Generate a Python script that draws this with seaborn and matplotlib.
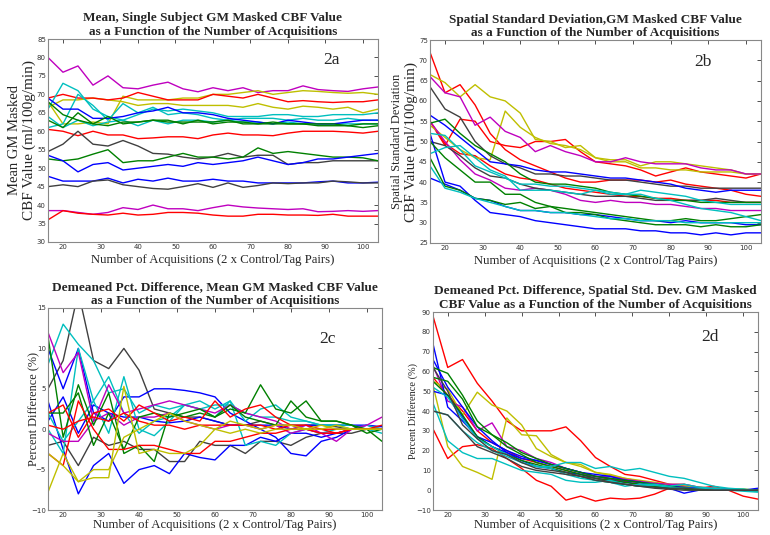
import matplotlib
matplotlib.use("Agg")
import matplotlib.pyplot as plt
import seaborn as sns

# number of acquisitions (x axis, every 4th point)
acq = list(range(16, 105, 4))

# MATLAB style line colours
BLUE = (0.0, 0.0, 1.0)
GREEN = (0.0, 0.5, 0.0)
RED = (1.0, 0.0, 0.0)
CYAN = (0.0, 0.75, 0.75)
MAGENTA = (0.75, 0.0, 0.75)
YELLOW = (0.75, 0.75, 0.0)
BLACK = (0.25, 0.25, 0.25)

# =============================================================================
# 2a : mean GM masked CBF
# =============================================================================
a_mag_hi = [80, 76, 77.7, 72.5, 75, 71.8, 71.5, 72.5, 73.3, 71.5, 70.7, 71.8, 71, 71.8, 70.5, 71, 71, 72.3, 71.3, 71, 70.8, 71.5, 72]
a_yel_1 = [68, 62, 62, 62.5, 62, 69.5, 68.5, 68.5, 68.5, 69, 69, 70, 70, 70.5, 71, 70, 70.5, 71, 70.8, 70.5, 70.3, 70.5, 70]
a_yel_2 = [66.5, 68.5, 68.5, 69, 68.5, 68, 67, 67.5, 67.5, 67, 67, 67, 67, 66.5, 67.5, 66.5, 66, 66.8, 66.5, 66, 66.5, 65, 66]
a_red_hi = [69, 70, 69, 69, 68.5, 69, 70.5, 69.5, 68.5, 68.5, 68.5, 70, 69.5, 69, 70, 69, 68, 68.3, 68, 67.8, 68, 68, 68.5]
a_cya_1 = [66, 73, 71, 66, 64, 63, 64.5, 66, 65.5, 66, 65.5, 65, 64, 64, 64, 64.5, 64.5, 64, 64, 64.5, 64.5, 64.5, 65]
a_cya_2 = [61, 62, 70, 67, 63, 67.5, 65, 66.5, 64.5, 65, 64.5, 63.5, 63, 63.5, 63.5, 63.5, 63, 63.5, 63, 63, 63.5, 63, 63]
a_cya_3 = [64, 61, 63, 61.5, 62.5, 63, 61.5, 63, 62, 63, 63, 62.5, 63, 62.5, 62.5, 62, 62.5, 62, 62, 62, 62, 62, 62]
a_blu_hi = [69, 66, 66, 63.5, 63.5, 64, 65, 65.5, 66.5, 65, 65, 64.5, 63.5, 63, 62.5, 62, 63, 62.5, 62, 62, 62.5, 63, 63]
a_gre_1 = [68, 64.5, 63, 62, 64, 62, 62.5, 63, 63, 62, 63, 62, 62.5, 62.5, 62, 62, 62, 62, 61.5, 61.5, 61.5, 61, 61.5]
a_gre_2 = [63, 61, 65, 62, 61.5, 62.5, 62.5, 63, 62.5, 62.5, 62.5, 62.5, 63, 62, 62, 62.5, 62, 62, 62, 62, 61.5, 62, 62]
a_red_mid = [60.5, 60, 58.8, 60, 59, 59, 58, 58.2, 58.5, 58.5, 58, 59, 59.5, 59, 59, 58.8, 59.5, 60, 60, 60, 59.8, 59.5, 60]
a_blk_hi = [54.5, 56.5, 60, 56.5, 56, 57.5, 56, 54, 53.8, 53, 52.5, 53, 54, 53, 53.5, 53.5, 51, 51.5, 51.5, 52, 52, 52, 52]
a_gre_3 = [52.5, 52, 52.5, 53.8, 55, 51.5, 52, 52, 53, 54, 53, 53, 52.5, 53, 55.5, 54, 54.5, 54, 53.5, 53, 53, 52.8, 52]
a_blu_mid = [53.5, 52, 49, 51, 51.5, 49.5, 50, 50.5, 51, 50.5, 51.5, 51, 51.5, 52, 53, 52, 51, 51.5, 52.5, 52.5, 53, 53.5, 54]
a_blu_lo = [47.8, 46.5, 46.5, 46.5, 47.3, 46, 47, 46.5, 47.3, 46.5, 46.5, 47, 46.5, 46.5, 46, 46, 46, 46, 46.3, 46.5, 46, 46, 46.2]
a_blk_lo = [45, 45.5, 45, 46.5, 46.8, 45.5, 45, 44.5, 44.3, 45, 45.8, 44.8, 46, 44.8, 45.3, 46, 45.8, 46, 46, 46.5, 46.3, 46, 46]
a_mag_lo = [38.5, 38.5, 38, 37.5, 38, 39.3, 38.8, 40, 39, 39, 38.5, 39.3, 40, 39.5, 39.2, 39, 38.8, 39, 38.2, 38.3, 38.5, 38.3, 38.5]
a_red_lo = [36, 38.5, 37.8, 37.5, 37.3, 37.8, 37.3, 37.5, 38, 38, 37.8, 37.3, 37, 37, 37.5, 37.5, 37.3, 37.3, 37.2, 37.5, 37, 37, 37]

# =============================================================================
# 2b : spatial standard deviation
# =============================================================================
b_red_1 = [72, 62, 64, 59, 52, 48, 45.5, 44, 42.5, 41, 40, 40, 40.5, 40.5, 40.5, 40, 40.5, 39.5, 39, 38.5, 38, 37, 36.5]
b_red_2 = [55, 49, 55.5, 55, 50, 49, 48.5, 50, 50, 50.5, 47.5, 45, 44.5, 44, 43, 41.5, 42.5, 43.5, 42.5, 42, 41.5, 41, 42]
b_red_3 = [55, 49.5, 47, 46.5, 44, 42, 41, 40.5, 39.5, 38.5, 38, 37.5, 37, 36.5, 36.5, 36, 36, 35.5, 35.5, 35.5, 35, 35, 35]
b_yel_1 = [66.5, 64.5, 61, 64, 61, 60, 57, 50.5, 50, 48.5, 49, 46, 45.5, 45.5, 44, 45, 45, 44.5, 44, 43.5, 43, 42, 42]
b_yel_2 = [54, 51, 48, 46, 45.5, 57.5, 53.5, 51, 49.5, 49, 48, 46, 45, 45, 43.5, 43.5, 43, 43, 42.5, 42.5, 42.5, 42, 42]
b_mag_1 = [66, 62, 61, 54, 56, 52.5, 51, 47.5, 49, 47.5, 46.5, 45, 45, 46, 45, 44.5, 44.5, 44.5, 43.5, 43, 43, 42, 42]
b_mag_2 = [55, 50, 45.5, 42, 40.5, 38.5, 38, 38.5, 38, 37, 35.5, 35, 35.5, 35, 35, 34.5, 34.5, 34, 33.5, 33.5, 33, 33, 33]
b_blk_1 = [63.5, 58, 56, 50, 46.5, 44.5, 43.5, 42, 42, 41.5, 41.5, 41, 40.5, 40.5, 40, 39.5, 39, 39, 38.5, 38.5, 38.5, 38.5, 38.5]
b_blk_2 = [50, 49, 46.5, 43.5, 41.5, 41, 39.5, 38.5, 38, 37.5, 37, 36.5, 36.5, 36.5, 36, 35.5, 35.5, 35.5, 35.5, 36, 35.5, 35, 35]
b_blu_1 = [56.5, 54, 51, 48, 45, 44.5, 44, 43, 42.5, 42.5, 42, 41.5, 41, 41, 40.5, 40, 39.5, 38.5, 38, 37.5, 38, 38, 38]
b_blu_2 = [52, 40, 39, 35.5, 32.5, 32, 31.5, 30.5, 30, 29.5, 29, 28.5, 28.5, 28.5, 28, 28, 27.5, 27.5, 27, 27.5, 27, 27.5, 27.5]
b_blu_3 = [41, 39.5, 38, 36, 35.5, 34, 33, 33, 32.5, 32.5, 32, 32, 31.5, 31, 30.5, 30.5, 30, 30.5, 30, 30, 30, 29.5, 29.5]
b_gre_1 = [54.5, 55.5, 52, 49, 47, 45, 42, 40, 39.5, 39.5, 39, 38.5, 37.5, 37, 36.5, 36, 35.5, 35.5, 35, 35, 35, 35, 35]
b_gre_2 = [50, 46, 43, 40, 40, 37, 37, 35, 34, 33.5, 33, 32.5, 32, 31.5, 31, 30.5, 30.5, 31, 30.5, 30.5, 31, 31.5, 32]
b_gre_3 = [46, 39, 38, 36, 35.5, 34.5, 35, 33.5, 34, 32.5, 32.5, 32, 31, 30.5, 30, 29.5, 29.5, 29.5, 29, 29.5, 29, 29, 29.5]
b_cya_1 = [47, 48.5, 49, 46, 43, 41.5, 38, 38, 38, 37.5, 37, 38, 37, 37, 38, 37.5, 37, 36.5, 35.5, 35, 34.5, 34.5, 34.5]
b_cya_2 = [52, 51.5, 48, 44, 42.5, 41, 39.5, 39.5, 39, 39, 38.5, 38, 37.5, 37, 37, 36, 35.5, 34.5, 33.5, 33, 32.5, 31.5, 30.5]
b_cya_3 = [44, 38.5, 37.5, 36, 35, 34, 33, 33, 32.5, 32.5, 32, 31.5, 31, 31, 30.5, 30.5, 30.5, 30, 30, 30, 30, 30, 30]

# =============================================================================
# 2c : demeaned pct difference, mean
# =============================================================================
c_blk_1 = [5, 8.5, 17, 8.5, 7.5, 10, 7.3, 2.5, 2, 1.5, 1.5, 1, 0.5, 0.5, 1, 0.5, 0.5, 0.5, 0.5, 0.3, 0, 0, 0]
c_blk_2 = [-2, -1.5, -4.5, -1, -2, -1.5, -2.5, -2.5, -4, -4, -1.5, -2, -2, -3, -1.5, -1.5, -2, -1, -0.5, -0.5, -0.5, 0, 0]
c_blu_1 = [10, 5, 10, 2, 1, 4, 4, 5, 5, 4.8, 4.5, 4, 2, 1, 0, -1, -3, -3.3, -1.5, -1, 0, 0.5, 0]
c_blu_2 = [3.5, -2.5, -8, -4.5, -3, -6.7, -5, -4.5, -5.5, -3, -3.5, -3.8, -2, -2, -1, -1.5, -0.5, -0.5, -1, -0.5, 0, 0, 0]
c_blu_3 = [1, 4, -0.5, 3, 2, 1.5, 1.5, 1, 0.8, 1, 1.5, 1, 0.5, 0.5, 0.5, 0.5, 0, 0.5, 0.5, 0.5, 0.5, 0.5, 0.3]
c_cya_1 = [8, 13, 10.5, 8.5, 4.5, 5, 2, 3, 2.5, 3, 2.5, 3, 3, 2, 1.5, 1.5, 1, 1, 0.5, 0.5, 0.5, 0, 0]
c_cya_2 = [0, -3, 10, 3.5, 6.5, 2, -0.5, 1, 1.5, 3, 3.5, 2.5, 3.5, 1, 2.5, 3, 1.5, 1, 0.5, 0.5, 0, 0, -0.5]
c_cya_3 = [2, -1.5, 1, 3.5, -0.5, 6.5, 0, -0.8, 1, 3, 2.5, 1.5, 3.5, -2, -1.5, -2, -0.5, 0, -0.5, 0, 0, 0.5, 0]
c_mag_1 = [12, 7, 9.5, 1, 5.5, 2, 2.5, 3, 3.5, 3, 2.5, 2, 3, 2, 1.5, 1, 0, 0.5, -0.5, -1.5, 0, 0.5, 1.5]
c_mag_2 = [-0.5, -1.5, -1.5, 1, 2, 0.5, 1.5, 1.5, 2, 1, 0.5, 0, 0.5, 0.5, 0, 0.5, -0.5, 0, -0.5, -0.5, 0, 0, 0]
c_gre_1 = [11.5, -1, 5.5, 0.5, 4.5, -3, -2, -4, 2, 1.5, 2, 1.5, 2.5, 2, 5.5, 2.5, 2, 3.5, 1, 1, 0.5, 0, -1.5]
c_gre_2 = [2, 2, 4.5, -2, 2, -2.5, 1.5, 2, 1.5, 2, 2.5, 1.5, 3, 1.5, 1, 0.5, 3.5, 1.5, 1, 1, 0.5, -0.5, 0]
c_red_1 = [2, 3, -1, 2, 2.5, 1, 3, 2, 1, 1.5, 1, 3.5, 1.5, 2.5, 3, 1.5, 0.5, 0.5, 0, -0.5, 0, 0, 0.5]
c_red_2 = [-3, -4.5, 3.5, 0, -2.5, -2.5, -2, -2, -2.5, -3, -3, -1.5, -1.5, -1, -0.5, -0.5, 0, 0, -0.5, -0.5, 0, 0, 0]
c_red_3 = [0.5, 0, 1, 1.5, 1, 2, 1, 0.5, 0.5, 0, 0.5, 0.5, 0.5, 0.5, 0.5, 0, 0.5, 0, 0, 0, 0, 0, 0]
c_yel_1 = [-7.8, -3, -6.5, -6, -6, 5.3, -3, -2.5, -3, -3, -2, 0, -0.5, 0, -0.5, 0, 0, 0, 0, 0.5, 0, 0, 0]
c_yel_2 = [-3, -4.5, -6.5, -5, -5, -1, 0, 1, 2, 1, 0.5, 0, 1, 0.5, 0, 0.5, 0.5, 0, 0.5, 0, 0, 0, 0]

# =============================================================================
# 2d : demeaned pct difference, spatial std. dev.
# =============================================================================
d_red_1 = [88, 62, 66, 54, 45, 35, 30, 30, 30, 32, 25, 16.5, 12, 8, 7, 5, 3, 2, 1, 0, 0.5, 0, 0]
d_red_2 = [31, 16, 22, 23, 21, 16, 11, 5, 2, -5, -3, -5.5, -4, -4.5, -4, -2, 1, 1.5, 1, 2, 0, -3, -4.5]
d_red_3 = [57, 48, 40, 30, 24, 20, 16, 14, 12, 10, 8, 7, 5.5, 4.5, 4, 3, 2.5, 2, 1, 1, 0.5, 0, 0]
d_yel_1 = [55, 51, 38, 49.5, 43, 40, 33, 21, 17, 14, 12, 9, 7.5, 6, 4.5, 3.5, 2.5, 2, 1.5, 1, 0.5, 0.5, 0]
d_yel_2 = [53, 22, 12, 9, 5.5, 36.5, 28, 27.5, 18, 14, 13, 9, 8, 6, 5, 4, 3, 3, 1.5, 1, 0.5, 0.5, 0]
d_mag_1 = [63, 45, 42, 30, 34, 22, 20, 16, 14, 11, 9, 7, 7, 5.5, 4.5, 3.5, 3, 3, 1.5, 1, 0.5, 0, 0]
d_blu_1 = [74, 42, 35, 27, 22, 19, 16, 15, 13, 11, 9, 7, 6, 5, 4, 2, 1, -1.5, 0, 0, 0, 0, 1]
d_blu_2 = [50, 48, 37, 27, 24, 20, 17, 15, 13, 11, 9, 8, 7, 5, 4, 3, 2, 1.5, 1, 0.5, 0, 0, 0]
d_blu_3 = [66, 52, 42, 32, 25, 19, 15, 12, 11, 9, 8, 6, 5, 4, 3, 2, 2, 1, 1, 0.5, 0.5, 0, 0]
d_gre_1 = [62, 59, 48, 35, 28, 24, 19, 16, 13, 11, 9, 7, 6, 5, 4, 3, 2, 1, 0.5, 0.5, 0, 0, 0]
d_gre_2 = [57, 55, 46, 32, 28, 22, 18, 14, 12, 10, 8, 6, 5, 4, 3, 2, 1.5, 1, 0.5, 0, 0, 0, -0.5]
d_gre_3 = [55, 48, 38, 27, 22, 18, 15, 13, 11, 9, 7, 5, 4, 3, 2, 2, 1, 0.5, 0, 0, 0, 0, 0]
d_cya_1 = [44, 25, 19, 16, 16, 13, 10, 9, 8, 5, 4, 4, 5, 3, 2, 2.5, 1.5, 1, 1, 0.5, 0, -0.5, -1]
d_cya_2 = [40, 38, 30, 24, 20, 17, 14, 12, 12, 14, 14, 11, 12, 10, 11, 9, 7, 6, 4, 2, 1, 0.5, 0]
d_cya_3 = [52, 47, 36, 26, 22, 18, 14, 12, 11, 8, 6, 5, 4, 2, 3, 3, 2, 3, 1.5, 1, 0.5, 0.5, -0.5]
d_blk_1 = [62, 50, 33, 26, 20, 18, 14, 11, 10, 9, 7, 6, 4, 3, 2, 1.5, 1, 1, 0.5, 0, 0, 0, 0]
d_blk_2 = [40, 38, 30, 22, 19, 16, 12, 10, 9, 8, 7, 5, 4, 3, 2, 1, 0.5, 0, 0, 0, 0, 0, 0]

panel_a = [(a_mag_hi, MAGENTA), (a_yel_1, YELLOW), (a_yel_2, YELLOW), (a_red_hi, RED),
           (a_cya_1, CYAN), (a_cya_2, CYAN), (a_cya_3, CYAN), (a_blu_hi, BLUE),
           (a_gre_1, GREEN), (a_gre_2, GREEN), (a_red_mid, RED), (a_blk_hi, BLACK),
           (a_gre_3, GREEN), (a_blu_mid, BLUE), (a_blu_lo, BLUE), (a_blk_lo, BLACK),
           (a_mag_lo, MAGENTA), (a_red_lo, RED)]
panel_b = [(b_red_1, RED), (b_red_2, RED), (b_red_3, RED), (b_yel_1, YELLOW), (b_yel_2, YELLOW),
           (b_mag_1, MAGENTA), (b_mag_2, MAGENTA), (b_blk_1, BLACK), (b_blk_2, BLACK),
           (b_blu_1, BLUE), (b_blu_2, BLUE), (b_blu_3, BLUE), (b_gre_1, GREEN), (b_gre_2, GREEN),
           (b_gre_3, GREEN), (b_cya_1, CYAN), (b_cya_2, CYAN), (b_cya_3, CYAN)]
panel_c = [(c_blk_1, BLACK), (c_blk_2, BLACK), (c_blu_1, BLUE), (c_blu_2, BLUE), (c_blu_3, BLUE),
           (c_cya_1, CYAN), (c_cya_2, CYAN), (c_cya_3, CYAN), (c_mag_1, MAGENTA), (c_mag_2, MAGENTA),
           (c_gre_1, GREEN), (c_gre_2, GREEN), (c_red_1, RED), (c_red_2, RED), (c_red_3, RED),
           (c_yel_1, YELLOW), (c_yel_2, YELLOW)]
panel_d = [(d_red_1, RED), (d_red_2, RED), (d_red_3, RED), (d_yel_1, YELLOW), (d_yel_2, YELLOW),
           (d_mag_1, MAGENTA), (d_blu_1, BLUE), (d_blu_2, BLUE), (d_blu_3, BLUE), (d_gre_1, GREEN),
           (d_gre_2, GREEN), (d_gre_3, GREEN), (d_cya_1, CYAN), (d_cya_2, CYAN), (d_cya_3, CYAN),
           (d_blk_1, BLACK), (d_blk_2, BLACK)]

XLABEL = "Number of Acquisitions (2 x Control/Tag Pairs)"
SERIF = "Liberation Serif"

sns.set_theme(style="white")
plt.rcParams["font.family"] = ["DejaVu Sans"]

fig = plt.figure(figsize=(7.7, 5.35), dpi=100)


def draw_panel(rect, lines, ylim, yticks, title, ylab_lines, tag, tag_pos, xlab_y):
    ax = fig.add_axes(rect)
    for vals, col in lines:
        sns.lineplot(x=acq, y=vals, color=col, linewidth=1.0, ax=ax, legend=False)
    ax.set_xlim(16, 104)
    ax.set_ylim(*ylim)
    ax.set_xticks(range(20, 101, 10))
    ax.set_yticks(yticks)
    ax.tick_params(direction="in", top=True, right=True, length=3, width=0.6,
                   labelsize=5, colors="#333333", pad=1.5)
    for sp in ax.spines.values():
        sp.set_color("#888888")
        sp.set_linewidth(0.8)
    ax.set_title(title, fontfamily=SERIF, fontweight="bold", fontsize=9.5,
                 pad=3, linespacing=1.15)
    ax.set_xlabel(XLABEL, fontfamily=SERIF, fontsize=9.2, labelpad=0)
    ax.xaxis.set_label_coords(0.5, xlab_y)
    ax.set_ylabel("")
    # y label lines: (text, x position in axes fraction, size)
    for txt, xpos, size in ylab_lines:
        ax.text(xpos, 0.5, txt, transform=ax.transAxes, rotation=90, fontfamily=SERIF,
                fontsize=size, ha="center", va="center")
    ax.text(tag_pos[0], tag_pos[1], tag, transform=ax.transAxes, fontfamily=SERIF,
            fontsize=12.5, ha="center", va="center")
    return ax


draw_panel([0.0623, 0.5477, 0.4286, 0.3794], panel_a, (30, 85), range(30, 86, 5),
           "Mean, Single Subject GM Masked CBF Value\nas a Function of the Number of Acquisitions",
           [("Mean GM Masked", -0.1, 10.5), ("CBF Value (ml/100g/min)", -0.056, 11)],
           "2a", (0.86, 0.895), -0.06)
draw_panel([0.5584, 0.5458, 0.4299, 0.3794], panel_b, (25, 75), range(25, 76, 5),
           "Spatial Standard Deviation,GM Masked CBF Value\nas a Function of the Number of Acquisitions",
           [("Spatial Standard Deviation", -0.1, 9.0), ("CBF Value (ml/100g/min)", -0.056, 11)],
           "2b", (0.825, 0.89), -0.06)
draw_panel([0.0623, 0.0467, 0.4338, 0.3776], panel_c, (-10, 15), range(-10, 16, 5),
           "Demeaned Pct. Difference, Mean GM Masked CBF Value\nas a Function of the Number of Acquisitions",
           [("Percent Difference (%)", -0.04, 8.8)],
           "2c", (0.838, 0.845), -0.045)
draw_panel([0.5623, 0.0467, 0.4221, 0.3701], panel_d, (-10, 90), range(-10, 91, 10),
           "Demeaned Pct. Difference, Spatial Std. Dev. GM Masked\nCBF Value as a Function of the Number of Acquisitions",
           [("Percent Difference (%)", -0.062, 7.5)],
           "2d", (0.852, 0.876), -0.045)

fig.savefig("out.png", dpi=100)
